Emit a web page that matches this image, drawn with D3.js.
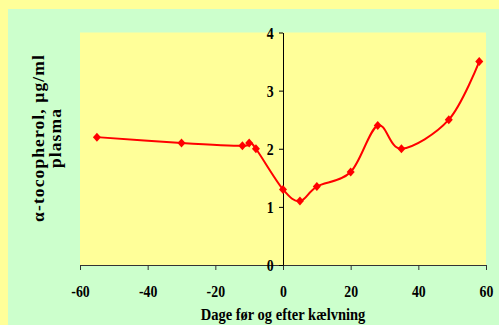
<!DOCTYPE html>
<html><head><meta charset="utf-8">
<script src="https://cdn.jsdelivr.net/npm/d3@7"></script>
<style>html,body{margin:0;padding:0;background:#FFFF99;}svg{display:block;}</style>
</head><body>
<svg id="c" width="499" height="325"></svg>
<script>
const days = [-55, -30, -12, -10, -8, 0, 5, 10, 20, 28, 35, 49, 58];
const tocopherol = [2.2, 2.1, 2.05, 2.1, 2.0, 1.3, 1.1, 1.35, 1.6, 2.4, 2.0, 2.5, 3.5];
const xTicks = [-60, -40, -20, 0, 20, 40, 60];
const yTicks = [0, 1, 2, 3, 4];
const xTitle = "Dage før og efter kælvning";
const yTitle1 = "α-tocopherol, µg/ml";
const yTitle2 = "plasma";

const svg = d3.select("#c");
const font = "'Liberation Serif','Times New Roman',serif";
svg.append("rect").attr("x",0).attr("y",0).attr("width",499).attr("height",325).attr("fill","#FFFF99");
svg.append("rect").attr("x",8).attr("y",9).attr("width",491).attr("height",316).attr("fill","#CCFFCC");

const L=80, R=486, T=32.5, B=265;
const x = d3.scaleLinear().domain([-60,60]).range([L,R]);
const y = d3.scaleLinear().domain([0,4]).range([B,T]);

svg.append("rect").attr("x",L).attr("y",T).attr("width",R-L).attr("height",B-T).attr("fill","#FFFF99");

// x axis
const xa = svg.append("g").attr("transform",`translate(0,${B})`)
  .call(d3.axisBottom(x).tickValues(xTicks).tickSize(5).tickFormat(d=>d<0?"-"+Math.abs(d):String(d)));
xa.select(".domain").attr("stroke","#333").attr("stroke-width",1);
xa.selectAll(".tick line").attr("stroke","#333");
xa.selectAll("text").attr("font-family",font).attr("font-weight","bold").attr("font-size",16.5)
  .attr("fill","#000").attr("y",32).attr("dy",0).attr("transform","scale(0.84,1)");

// y axis at x=0
const ya = svg.append("g").attr("transform",`translate(${x(0)},0)`)
  .call(d3.axisLeft(y).tickValues(yTicks).tickSize(4).tickSizeOuter(0).tickFormat(d3.format("d")));
ya.select(".domain").attr("stroke","#000");
ya.selectAll(".tick line").attr("stroke","#000");
ya.selectAll("text").attr("font-family",font).attr("font-weight","bold").attr("font-size",16.5)
  .attr("fill","#000").attr("x",-11).attr("dy","0.35em").attr("transform","scale(0.84,1)");

// line
const pts = days.map((d,i)=>[d,tocopherol[i]]);
const line = d3.line().x(d=>x(d[0])).y(d=>y(d[1])).curve(d3.curveCardinal.tension(0));
svg.append("path").datum(pts).attr("d",line).attr("fill","none").attr("stroke","#FF0000").attr("stroke-width",2);
svg.selectAll(".m").data(pts).enter().append("path")
  .attr("transform",d=>`translate(${x(d[0])},${y(d[1])})`)
  .attr("d","M0,-4.5L4,0L0,4.5L-4,0Z").attr("fill","#FF0000");

// titles
svg.append("text").attr("transform",`translate(${x(0)},320) scale(0.88,1)`).attr("text-anchor","middle")
  .attr("font-family",font).attr("font-weight","bold").attr("font-size",16.5).text(xTitle);
svg.append("text").attr("transform","translate(44,138) rotate(-90)").attr("text-anchor","middle")
  .attr("font-family",font).attr("font-weight","bold").attr("font-size",17.5).attr("letter-spacing",1.1).text(yTitle1);
svg.append("text").attr("transform","translate(61,138) rotate(-90)").attr("text-anchor","middle")
  .attr("font-family",font).attr("font-weight","bold").attr("font-size",17.5).attr("letter-spacing",1.1).text(yTitle2);
</script>
</body></html>
